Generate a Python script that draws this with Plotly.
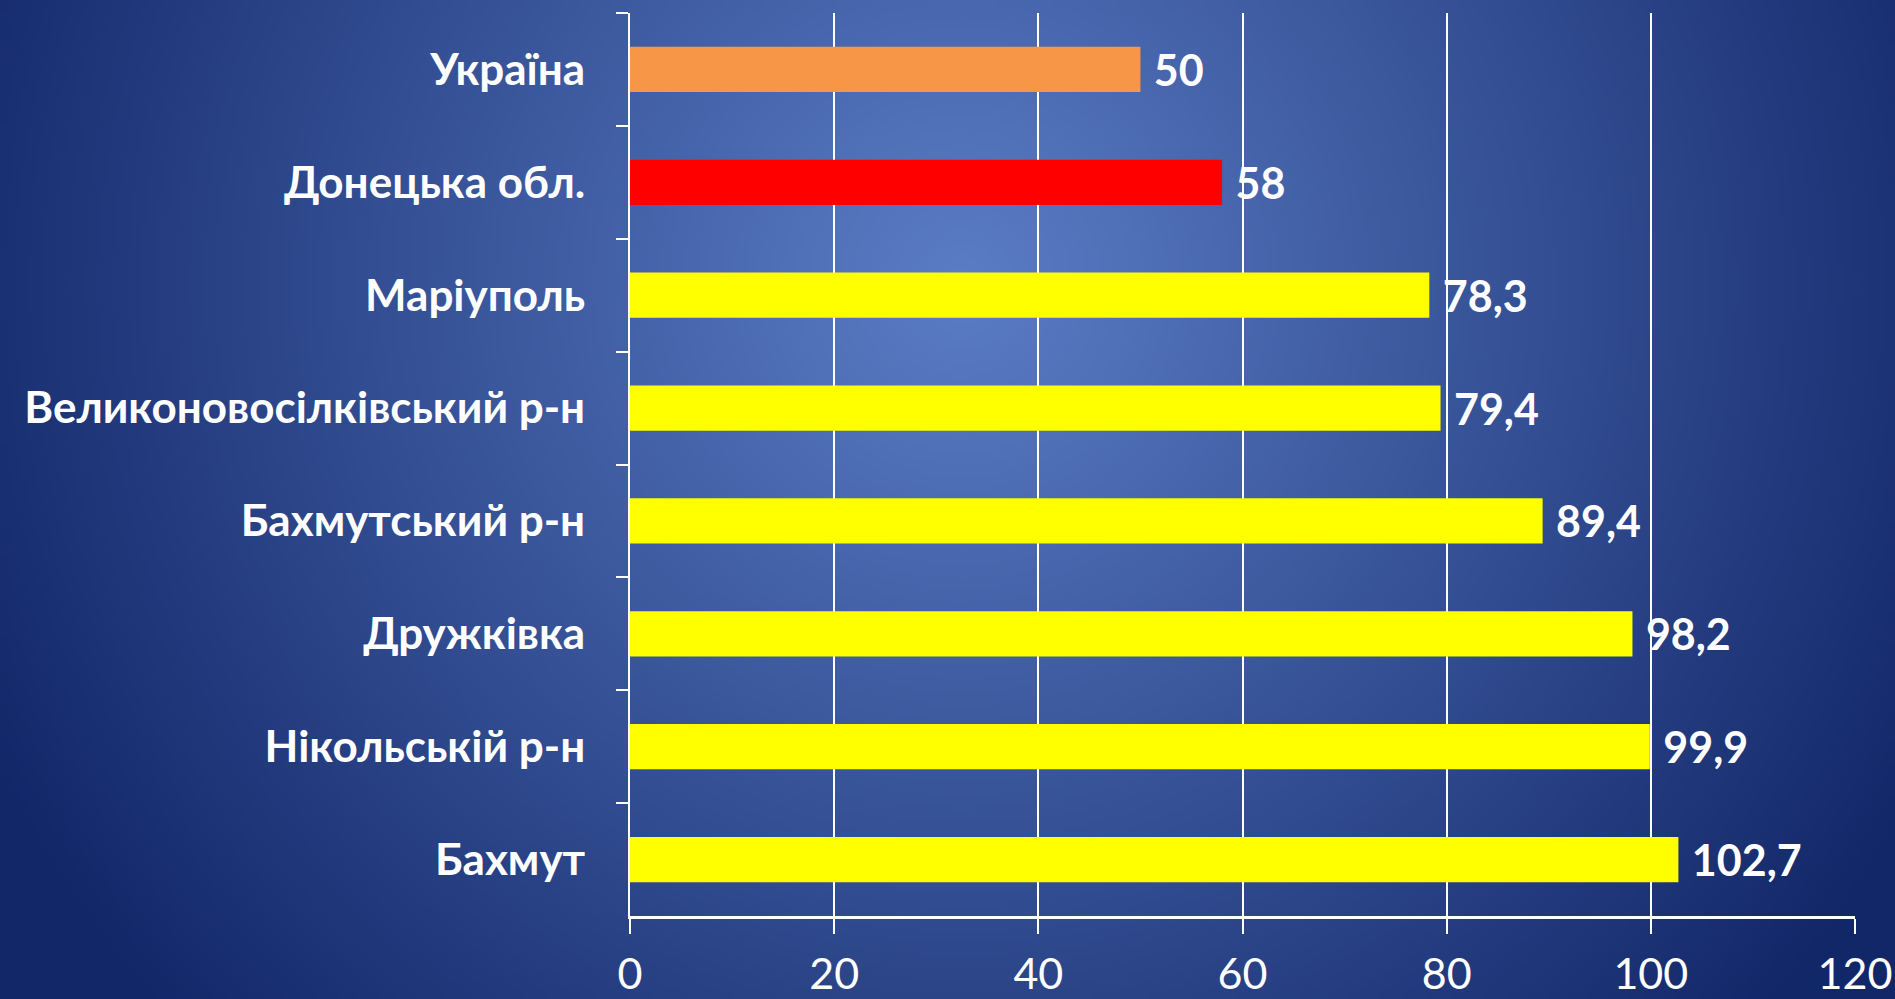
import base64, struct, zlib
import numpy as np
import plotly.graph_objects as go

# ---- data ----
categories = ["Україна", "Донецька обл.", "Маріуполь", "Великоновосілківський р-н",
              "Бахмутський р-н", "Дружківка", "Нікольській р-н", "Бахмут"]
values = [50, 58, 78.3, 79.4, 89.4, 98.2, 99.9, 102.7]
bar_colors = ["#F79646", "#FF0000", "#FFFF00", "#FFFF00", "#FFFF00", "#FFFF00", "#FFFF00", "#FFFF00"]
x_ticks = [0, 20, 40, 60, 80, 100, 120]

W, H = 1895, 999
ML, MR, MT, MB = 630, 40, 13, 83

# ---- radial gradient background as PNG ----
def make_png(arr):
    h, w, _ = arr.shape
    raw = b"".join(b"\x00" + arr[i].tobytes() for i in range(h))
    def chunk(tag, data):
        c = struct.pack(">I", len(data)) + tag + data
        return c + struct.pack(">I", zlib.crc32(tag + data) & 0xffffffff)
    return (b"\x89PNG\r\n\x1a\n" + chunk(b"IHDR", struct.pack(">IIBBBBB", w, h, 8, 2, 0, 0, 0))
            + chunk(b"IDAT", zlib.compress(raw, 9)) + chunk(b"IEND", b""))

f = 5
gw, gh = W // f, H // f
yy, xx = np.mgrid[0:gh, 0:gw].astype(float) * f
cx, cy, R = 960.0, 280.0, 1080.0
t = np.clip(np.sqrt((xx - cx) ** 2 + (yy - cy) ** 2) / R, 0, 1)[..., None]
c_in = np.array([0x5B, 0x7D, 0xC6], float)
c_out = np.array([0x12, 0x27, 0x68], float)
img = (c_in + (c_out - c_in) * t).round().astype(np.uint8)
uri = "data:image/png;base64," + base64.b64encode(make_png(img)).decode()

pw, ph = W - ML - MR, H - MT - MB

labels = ["\u00a0" + f"{v:g}".replace(".", ",") for v in values]

fig = go.Figure(go.Bar(
    x=values, y=categories, orientation="h", width=0.4,
    marker=dict(color=bar_colors, line=dict(width=0)),
    text=labels, textposition="outside", constraintext="none", cliponaxis=False,
    textfont=dict(family="Lato", size=43, color="white", weight="bold"),
    hoverinfo="skip",
))

fig.update_layout(
    width=W, height=H, autosize=False,
    margin=dict(l=ML, r=MR, t=MT, b=MB, pad=0, autoexpand=False),
    paper_bgcolor="#142a6a", plot_bgcolor="rgba(0,0,0,0)",
    showlegend=False,
    images=[dict(source=uri, xref="paper", yref="paper", x=-ML / pw, y=1 + MT / ph,
                 sizex=W / pw, sizey=H / ph, sizing="stretch", layer="below",
                 xanchor="left", yanchor="top")],
    xaxis=dict(range=[0, 120], tickvals=x_ticks, showgrid=True, gridcolor="white", gridwidth=2,
               showline=True, linecolor="white", linewidth=3, ticks="outside", ticklen=15,
               tickcolor="white", tickwidth=2, zeroline=False, automargin=False,
               tickfont=dict(family="Lato", size=43, color="white"), ticklabelstandoff=3),
    yaxis=dict(categoryorder="array", categoryarray=categories, autorange="reversed",
               showline=True, linecolor="white", linewidth=2, ticks="outside", ticklen=12,
               tickcolor="white", tickwidth=2, tickson="boundaries", showgrid=False,
               automargin=False,
               tickfont=dict(family="Lato", size=44, color="white", weight="bold"),
               ticklabelstandoff=34),
)

post = ("var s=document.createElement('style');"
        "s.textContent='html,body{margin:0!important;padding:0!important;overflow:hidden!important;"
        "background:#142a6a;}';"
        "document.head.appendChild(s);")

fig.write_html("out.html", config={"displayModeBar": False}, post_script=post)
